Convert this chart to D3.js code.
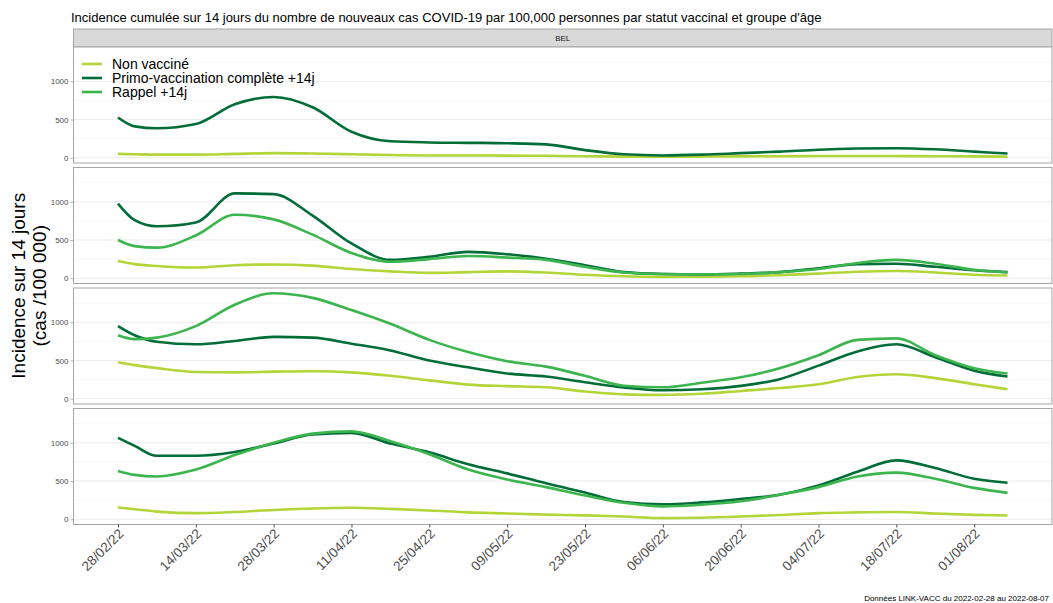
<!DOCTYPE html>
<html>
<head>
<meta charset="utf-8">
<script src="https://cdn.jsdelivr.net/npm/d3@7"></script>
<style>
  body { margin: 0; background: #fff; }
  svg { font-family: "Liberation Sans", Arial, sans-serif; }
</style>
</head>
<body>
<div id="chart-container"></div>
<script>
// dates of the readings
const dates = ["2022-02-28", "2022-03-03", "2022-03-07", "2022-03-14", "2022-03-21", "2022-03-28",
  "2022-04-04", "2022-04-11", "2022-04-18", "2022-04-25", "2022-05-02", "2022-05-09", "2022-05-16",
  "2022-05-23", "2022-05-30", "2022-06-06", "2022-06-13", "2022-06-20", "2022-06-27", "2022-07-04",
  "2022-07-11", "2022-07-18", "2022-07-25", "2022-08-01", "2022-08-07"];

const seriesNames = ["Non vacciné", "Primo-vaccination complète +14j", "Rappel +14j"];

// panel 1 (no booster line)
const p1_nonvacc = [50, 45, 40, 40, 50, 60, 55, 45, 35, 30, 30, 28, 25, 20, 15, 12, 15, 18, 20, 22, 22, 22, 20, 18, 15];
const p1_primo = [526, 410, 385, 440, 700, 795, 660, 340, 215, 200, 195, 190, 175, 100, 45, 30, 40, 60, 80, 105, 120, 125, 110, 80, 55];

// panel 2
const p2_nonvacc = [225, 185, 160, 140, 170, 180, 165, 120, 90, 70, 80, 90, 75, 45, 25, 18, 20, 25, 40, 60, 85, 95, 75, 45, 35];
const p2_primo = [977, 760, 680, 730, 1110, 1100, 820, 455, 240, 280, 345, 314, 256, 170, 80, 55, 49, 60, 80, 130, 185, 190, 150, 105, 80];
const p2_rappel = [500, 420, 400, 560, 830, 770, 570, 330, 215, 250, 290, 270, 240, 150, 75, 55, 50, 55, 80, 120, 200, 240, 190, 110, 75];

// panel 3
const p3_nonvacc = [477, 440, 400, 350, 345, 355, 360, 345, 300, 240, 185, 165, 150, 95, 57, 50, 65, 102, 140, 190, 285, 320, 270, 190, 124];
const p3_primo = [950, 830, 745, 712, 756, 809, 800, 720, 632, 500, 411, 330, 290, 215, 146, 110, 124, 168, 256, 433, 619, 712, 544, 367, 290];
const p3_rappel = [830, 780, 800, 950, 1230, 1380, 1320, 1160, 980, 770, 610, 490, 420, 300, 170, 150, 210, 280, 400, 570, 770, 790, 570, 400, 330];

// panel 4
const p4_nonvacc = [155, 130, 100, 80, 95, 120, 140, 150, 135, 115, 90, 75, 60, 50, 35, 15, 20, 35, 55, 80, 90, 95, 75, 57, 49];
const p4_primo = [1065, 960, 830, 830, 880, 990, 1110, 1130, 990, 875, 720, 600, 470, 350, 225, 195, 220, 265, 320, 440, 620, 770, 670, 530, 477];
const p4_rappel = [632, 580, 560, 650, 840, 1000, 1120, 1150, 1020, 850, 650, 520, 420, 310, 215, 168, 190, 235, 320, 420, 560, 610, 530, 410, 345];

const yTicks = [0, 500, 1000];
const yMinor = [250, 750, 1250];
const xTickLabels = ["28/02/22", "14/03/22", "28/03/22", "11/04/22", "25/04/22", "09/05/22",
  "23/05/22", "06/06/22", "20/06/22", "04/07/22", "18/07/22", "01/08/22"];

const panels = [
  [p1_nonvacc, p1_primo, null],
  [p2_nonvacc, p2_primo, p2_rappel],
  [p3_nonvacc, p3_primo, p3_rappel],
  [p4_nonvacc, p4_primo, p4_rappel]
];

const colors = {
  "Non vacciné": "#b4d53a",
  "Primo-vaccination complète +14j": "#006d38",
  "Rappel +14j": "#3cb54e"
};

const W = 1053, H = 603;
const left = 73.5, right = 1052;
const panelTops = [47, 167.5, 288, 408.5];
const panelH = 116;

const parse = d3.timeParse("%Y-%m-%d");
const parseTick = d3.timeParse("%d/%m/%y");
const dd = dates.map(parse);

const svg = d3.select("#chart-container").append("svg")
  .attr("width", W).attr("height", H);

// scales with ggplot-like 5% expansion
const ext = d3.extent(dd);
const span = ext[1] - ext[0];
const x = d3.scaleTime()
  .domain([new Date(+ext[0] - span * 0.05), new Date(+ext[1] + span * 0.05)])
  .range([left, right]);

const allVals = panels.flat().filter(s => s).flat();
const ymax = d3.max(allVals);
const yDomain = [-ymax * 0.05, ymax * 1.05];

// title
svg.append("text")
  .attr("x", 71).attr("y", 22)
  .attr("font-size", 13).attr("fill", "#000")
  .text("Incidence cumulée sur 14 jours du nombre de nouveaux cas COVID-19 par 100,000 personnes par statut vaccinal et groupe d'âge");

// strip
svg.append("rect")
  .attr("x", left).attr("y", 29).attr("width", right - left).attr("height", 18)
  .attr("fill", "#d9d9d9").attr("stroke", "#a6a6a6").attr("stroke-width", 1);
svg.append("text")
  .attr("x", (left + right) / 2).attr("y", 41)
  .attr("text-anchor", "middle").attr("font-size", 8).attr("fill", "#1a1a1a")
  .text("BEL");

const line = d3.line()
  .x(d => x(d.date))
  .y(d => d.yScale(d.v))
  .curve(d3.curveMonotoneX);

panels.forEach((series, pi) => {
  const top = panelTops[pi];
  const y = d3.scaleLinear().domain(yDomain).range([top + panelH, top]);
  const g = svg.append("g");

  g.append("rect")
    .attr("x", left).attr("y", top).attr("width", right - left).attr("height", panelH)
    .attr("fill", "#fff");

  g.selectAll(".minor").data(yMinor).join("line")
    .attr("x1", left).attr("x2", right)
    .attr("y1", d => y(d)).attr("y2", d => y(d))
    .attr("stroke", "#f4f4f4").attr("stroke-width", 0.6);
  g.selectAll(".major").data(yTicks).join("line")
    .attr("x1", left).attr("x2", right)
    .attr("y1", d => y(d)).attr("y2", d => y(d))
    .attr("stroke", "#ebebeb").attr("stroke-width", 1);

  // y axis
  const ax = g.append("g")
    .attr("transform", `translate(${left},0)`)
    .call(d3.axisLeft(y).tickValues(yTicks).tickFormat(d3.format("d")).tickSize(3).tickPadding(2));
  ax.select(".domain").remove();
  ax.selectAll("line").attr("stroke", "#b3b3b3");
  ax.selectAll("text").attr("font-size", 8).attr("fill", "#4d4d4d")
    .attr("font-family", "Liberation Sans, Arial, sans-serif");

  series.forEach((vals, si) => {
    if (!vals) return;
    const pts = vals.map((v, i) => ({ date: dd[i], v: v, yScale: y }));
    g.append("path")
      .datum(pts)
      .attr("d", line)
      .attr("fill", "none")
      .attr("stroke", colors[seriesNames[si]])
      .attr("stroke-width", 2.6)
      .attr("stroke-linejoin", "round");
  });

  g.append("rect")
    .attr("x", left).attr("y", top).attr("width", right - left).attr("height", panelH)
    .attr("fill", "none").attr("stroke", "#a6a6a6").attr("stroke-width", 1);
});

// x axis under last panel
const xTicks = xTickLabels.map(parseTick);
const bottom = panelTops[3] + panelH;
const xa = svg.append("g")
  .attr("transform", `translate(0,${bottom})`)
  .call(d3.axisBottom(x).tickValues(xTicks).tickFormat(d3.timeFormat("%d/%m/%y")).tickSize(3));
xa.select(".domain").remove();
xa.selectAll("line").attr("stroke", "#4d4d4d");
xa.selectAll("text")
  .attr("font-size", 13.5).attr("fill", "#4d4d4d")
  .attr("font-family", "Liberation Sans, Arial, sans-serif")
  .attr("text-anchor", "end")
  .attr("dy", null)
  .attr("transform", "translate(6,10) rotate(-45)")
  .attr("y", 0).attr("x", 0);

// y axis title
const yt = svg.append("text")
  .attr("transform", `translate(0,${(panelTops[0] + bottom) / 2}) rotate(-90)`)
  .attr("text-anchor", "middle").attr("font-size", 19).attr("fill", "#000");
yt.append("tspan").attr("x", 0).attr("y", 25).text("Incidence sur 14 jours");
yt.append("tspan").attr("x", 0).attr("y", 46).text("(cas /100 000)");

// legend inside first panel
const legend = svg.append("g").attr("transform", "translate(82,64)");
seriesNames.forEach((k, i) => {
  const row = legend.append("g").attr("transform", `translate(0,${i * 14})`);
  row.append("line").attr("x1", 0).attr("x2", 20).attr("y1", 0).attr("y2", 0)
    .attr("stroke", colors[k]).attr("stroke-width", 2.6);
  row.append("text").attr("x", 30).attr("y", 5).attr("font-size", 14).attr("fill", "#000").text(k);
});

// footer
svg.append("text")
  .attr("x", 1049).attr("y", 601)
  .attr("text-anchor", "end").attr("font-size", 8).attr("fill", "#000")
  .text("Données LINK-VACC du 2022-02-28 au 2022-08-07");
</script>
</body>
</html>
